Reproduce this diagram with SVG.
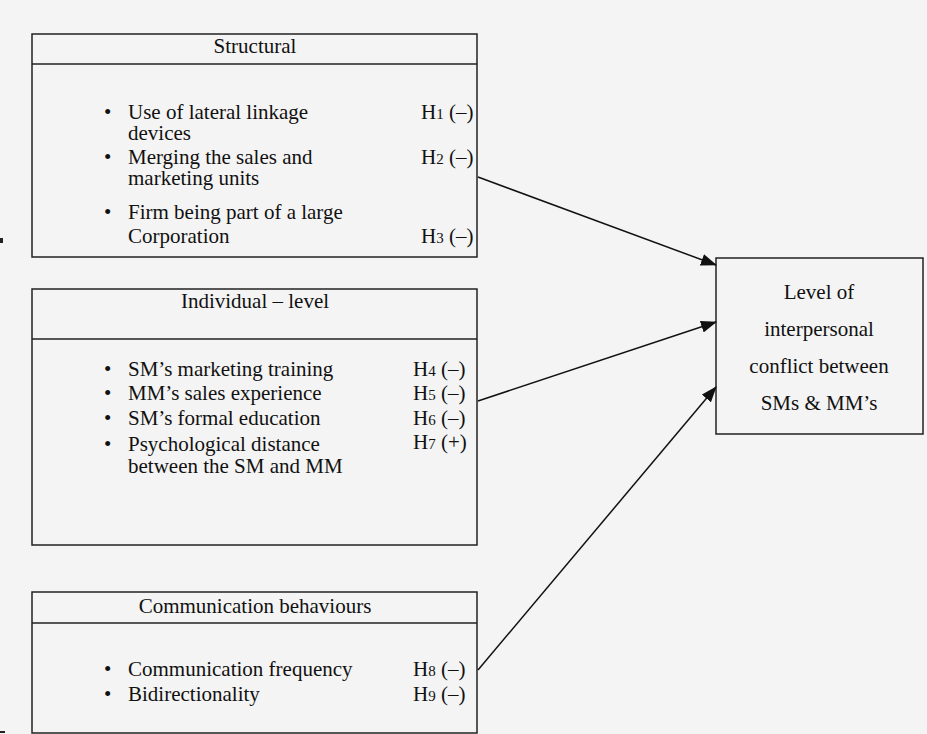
<svg xmlns="http://www.w3.org/2000/svg" width="927" height="734" viewBox="0 0 927 734">
<defs>
<marker id="arr" markerWidth="16" markerHeight="12" refX="15" refY="6" orient="auto" markerUnits="userSpaceOnUse">
<path d="M0,0 L16,6 L0,12 Z" fill="#111"/>
</marker>
<style>
text{font-family:"Liberation Serif","Times New Roman",serif;font-size:21px;fill:#111}
.c{text-anchor:middle}
.box{fill:none;stroke:#222;stroke-width:1.5}
.sub{font-size:15px}
.conn{stroke:#111;stroke-width:1.5;fill:none}
</style>
</defs>
<rect x="0" y="0" width="927" height="734" fill="#f4f4f4"/>
<rect x="0" y="238" width="3" height="5" fill="#222"/>
<rect x="0" y="731" width="5" height="2" fill="#222"/>

<g id="structural">
<rect class="box" x="32" y="34" width="445" height="223"/>
<line class="box" x1="32" y1="64" x2="477" y2="64"/>
<text class="c" x="255" y="53">Structural</text>
<text x="104" y="119">•</text><text x="128" y="119">Use of lateral linkage</text>
<text x="128" y="140">devices</text>
<text x="104" y="164">•</text><text x="128" y="164">Merging the sales and</text>
<text x="128" y="185">marketing units</text>
<text x="104" y="219">•</text><text x="128" y="219">Firm being part of a large</text>
<text x="128" y="243">Corporation</text>
<text x="421" y="119">H<tspan class="sub">1</tspan> (–)</text>
<text x="421" y="164">H<tspan class="sub">2</tspan> (–)</text>
<text x="421" y="243">H<tspan class="sub">3</tspan> (–)</text>
</g>

<g id="individual">
<rect class="box" x="32" y="289" width="445" height="256"/>
<line class="box" x1="32" y1="339" x2="477" y2="339"/>
<text class="c" x="255" y="308">Individual – level</text>
<text x="104" y="376">•</text><text x="128" y="376">SM’s marketing training</text>
<text x="104" y="400">•</text><text x="128" y="400">MM’s sales experience</text>
<text x="104" y="425">•</text><text x="128" y="425">SM’s formal education</text>
<text x="104" y="451">•</text><text x="128" y="451">Psychological distance</text>
<text x="128" y="473">between the SM and MM</text>
<text x="413" y="376">H<tspan class="sub">4</tspan> (–)</text>
<text x="413" y="400">H<tspan class="sub">5</tspan> (–)</text>
<text x="413" y="425">H<tspan class="sub">6</tspan> (–)</text>
<text x="413" y="449">H<tspan class="sub">7</tspan> (+)</text>
</g>

<g id="communication">
<rect class="box" x="32" y="592" width="445" height="141"/>
<line class="box" x1="32" y1="623" x2="477" y2="623"/>
<text class="c" x="255" y="613">Communication behaviours</text>
<text x="104" y="676">•</text><text x="128" y="676">Communication frequency</text>
<text x="104" y="701">•</text><text x="128" y="701">Bidirectionality</text>
<text x="413" y="676">H<tspan class="sub">8</tspan> (–)</text>
<text x="413" y="701">H<tspan class="sub">9</tspan> (–)</text>
</g>

<g id="outcome">
<rect class="box" x="716" y="258" width="207" height="176"/>
<text class="c" x="819" y="299">Level of</text>
<text class="c" x="819" y="336">interpersonal</text>
<text class="c" x="819" y="373">conflict between</text>
<text class="c" x="819" y="410">SMs &amp; MM’s</text>
</g>

<g id="connectors">
<line class="conn" x1="478" y1="177" x2="716" y2="265" marker-end="url(#arr)"/>
<line class="conn" x1="478" y1="401" x2="716" y2="322" marker-end="url(#arr)"/>
<line class="conn" x1="478" y1="670" x2="716" y2="387" marker-end="url(#arr)"/>
</g>
</svg>
